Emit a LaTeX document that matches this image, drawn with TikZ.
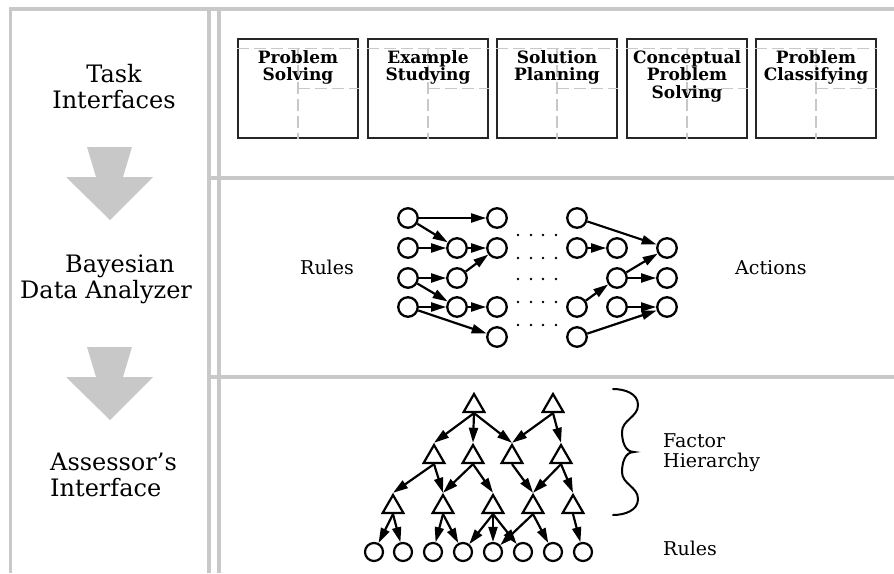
\documentclass[tikz,border=0pt]{standalone}
\usepackage{fontspec}
\setmainfont{DejaVu Serif}
\usetikzlibrary{arrows.meta,shapes.geometric,calc}

\definecolor{rulegray}{RGB}{200,200,200}

% multi-line text whose baseline is the first line's baseline
\newcommand\stackC[2]{\parbox[t]{#1}{\centering #2}}
\newcommand\stackL[2]{\parbox[t]{#1}{\raggedright #2}}

\tikzset{
  frame/.style={draw=rulegray, line width=3.6pt},
  bigarrow/.style={fill=rulegray, draw=none},
  taskbox/.style={draw=black!85, line width=1.1pt, minimum width=120pt, minimum height=99pt, inner sep=0pt},
  guide/.style={draw=rulegray, line width=1.2pt, dash pattern=on 12pt off 5pt},
  boxlabel/.style={font=\fontsize{17}{17.5}\selectfont\bfseries, inner sep=0pt, anchor=base},
  sidelabel/.style={font=\fontsize{24}{26}\selectfont, inner sep=0pt},
  netlabel/.style={font=\fontsize{19}{20}\selectfont, inner sep=0pt, anchor=base west},
  ring/.style={circle, draw, line width=2.3pt, minimum size=19.5pt, inner sep=0pt},
  leaf/.style={circle, draw, line width=2.2pt, minimum size=18pt, inner sep=0pt},
  tri/.style={regular polygon, regular polygon sides=3, draw, line width=2.2pt, minimum size=24pt, inner sep=0pt},
  link/.style={line width=2.2pt, -{Triangle[length=15pt,width=9pt]}},
}

\begin{document}
\begin{tikzpicture}[x=1pt,y=-1pt]
\useasboundingbox (0,0) rectangle (894,573);

% ---- frame ----
\draw[frame] (10.5,573) -- (10.5,9) -- (894,9);
\draw[frame] (208.7,9) -- (208.7,573);
\draw[frame] (218.7,9) -- (218.7,573);
\draw[frame] (208.7,178) -- (894,178);
\draw[frame] (208.7,377) -- (894,377);

% ---- left column: stages and flow arrows ----
\node[sidelabel, anchor=base] (lTask) at (114,82) {\stackC{190pt}{Task\\Interfaces}};
\node[sidelabel, anchor=base west] (lBayes) at (20,272) {\stackL{190pt}{\hspace*{45pt}Bayesian\\Data Analyzer}};
\node[sidelabel, anchor=base west] (lAssess) at (50,470) {\stackL{190pt}{Assessor’s\\Interface}};

\foreach \dy in {0,200}{
  \fill[bigarrow] (87,147+\dy) -- (132,147+\dy) -- (123,177+\dy) -- (153,177+\dy)
     -- (110,220+\dy) -- (66,177+\dy) -- (96,177+\dy) -- cycle;
}

% ---- task interface windows ----
\foreach \n/\x in {ps/238, es/368, sp/497, cp/627, pc/756}{
  \node[taskbox] (\n) at (\x+60,88.5) {};
  \draw[guide] ($(\n.north west)+(0,10)$) -- ($(\n.north east)+(0,10)$);
  \draw[guide] ($(\n.north)+(0,10)$) -- (\n.south);
  \draw[guide] (\n.center) -- (\n.east);
}
\node[boxlabel] (tps) at (298,63) {\stackC{118pt}{Problem\\Solving}};
\node[boxlabel] (tes) at (428,63) {\stackC{118pt}{Example\\Studying}};
\node[boxlabel] (tsp) at (557,63) {\stackC{118pt}{Solution\\Planning}};
\node[boxlabel] (tcp) at (687,63) {\stackC{118pt}{Conceptual\\Problem\\Solving}};
\node[boxlabel] (tpc) at (816,63) {\stackC{118pt}{Problem\\Classifying}};

% ---- Bayesian network: rules to actions ----
\node[netlabel] (mRules) at (300,274) {Rules};
\node[netlabel] (mActions) at (735,274) {Actions};

\node[ring] (a1) at (408,218) {};
\node[ring] (a2) at (408,248) {};
\node[ring] (a3) at (408,278) {};
\node[ring] (a4) at (408,307) {};
\node[ring] (b2) at (457,248) {};
\node[ring] (b3) at (457,278) {};
\node[ring] (b4) at (457,307) {};
\node[ring] (c1) at (497,218) {};
\node[ring] (c2) at (497,248) {};
\node[ring] (c4) at (497,307) {};
\node[ring] (c5) at (497,337) {};

\node[ring] (d1) at (577,218) {};
\node[ring] (d2) at (577,248) {};
\node[ring] (d4) at (577,307) {};
\node[ring] (d5) at (577,337) {};
\node[ring] (e2) at (617,248) {};
\node[ring] (e3) at (617,278) {};
\node[ring] (e4) at (617,307) {};
\node[ring] (f2) at (667,248) {};
\node[ring] (f3) at (667,278) {};
\node[ring] (f4) at (667,307) {};

\foreach \s/\t in {a1/c1, a1/b2, a2/b2, b2/c2, b3/c2, a3/b3, a3/b4, a4/b4, b4/c4, a4/c5,
                   d1/f2, d2/e2, d4/e3, e3/f2, e3/f3, e4/f4, d5/f4}
  \draw[link] (\s) -- (\t);

\foreach \y in {235,258,279,302,325}
  \foreach \x in {518,531,543,556}
    \fill (\x,\y) circle (1.3);

% ---- factor hierarchy ----
\node[tri] (h1) at (474,406) {};
\node[tri] (h2) at (553,406) {};
\node[tri] (g1) at (434,457) {};
\node[tri] (g2) at (473,457) {};
\node[tri] (g3) at (512,457) {};
\node[tri] (g4) at (561,457) {};
\node[tri] (k1) at (393,507) {};
\node[tri] (k2) at (443,507) {};
\node[tri] (k3) at (493,507) {};
\node[tri] (k4) at (533,507) {};
\node[tri] (k5) at (573,507) {};

\foreach \i/\x in {1/374, 2/403, 3/433, 4/463, 5/493, 6/523, 7/553, 8/583}
  \node[leaf] (r\i) at (\x,552) {};

\foreach \s/\t in {h1/g1, h1/g2, h1/g3, h2/g3, h2/g4,
                   g1/k1, g1/k2, g2/k2, g2/k3, g3/k4, g4/k4, g4/k5}
  \draw[link] (\s.south) -- (\t.north);

\foreach \s/\t in {k1/r1, k1/r2, k2/r3, k2/r4, k3/r4, k3/r5, k3/r6, k4/r5, k4/r7, k5/r8}
  \draw[link] (\s.south) -- (\t);

% brace grouping the factor levels
\draw[line width=2pt, line cap=round]
  (613,389) to[out=0,in=90] (638,405) to[out=-90,in=90] (622,432)
  to[out=-90,in=180] (634,452) to[out=180,in=90] (622,472)
  to[out=-90,in=90] (638,499) to[out=-90,in=0] (613,515);

\node[netlabel] (fh) at (663,447) {\stackL{120pt}{Factor\\Hierarchy}};
\node[netlabel] (bRules) at (663,555) {Rules};

\end{tikzpicture}
\end{document}
